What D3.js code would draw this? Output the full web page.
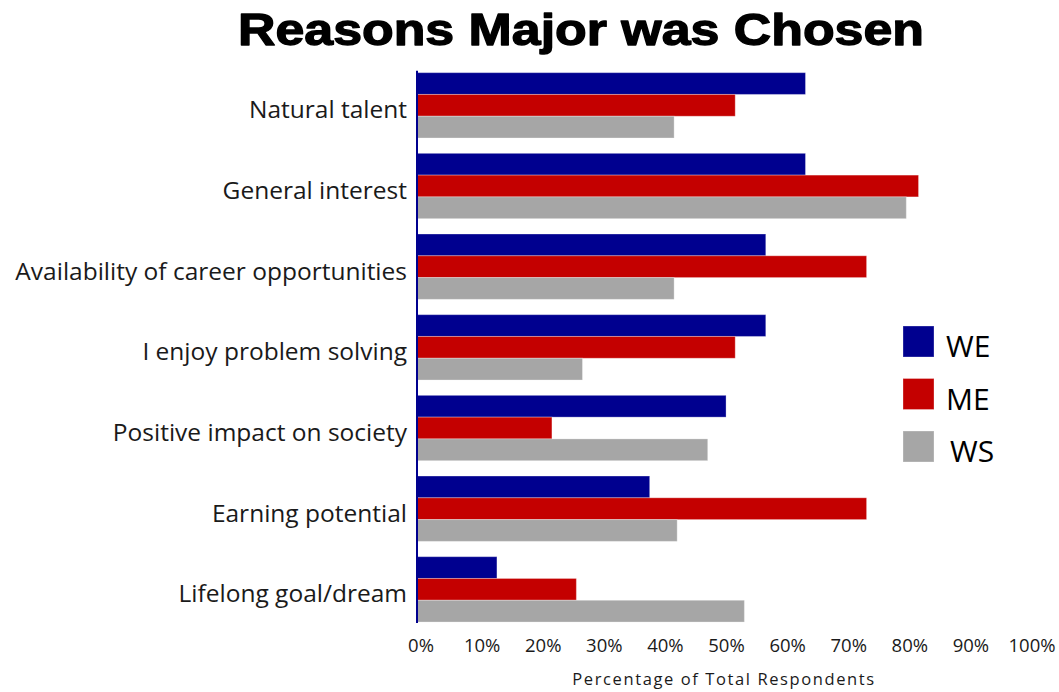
<!DOCTYPE html>
<html>
<head>
<meta charset="utf-8">
<script src="https://cdn.jsdelivr.net/npm/d3@7"></script>
<style>
  html, body { margin: 0; padding: 0; background: #ffffff; }
  svg { display: block; }
  text { font-family: "Open Sans", "DejaVu Sans", sans-serif; }
</style>
</head>
<body>
<svg id="chart" width="1059" height="692"></svg>
<script>
// Reasons listed top to bottom
const categories = [
  "Natural talent",
  "General interest",
  "Availability of career opportunities",
  "I enjoy problem solving",
  "Positive impact on society",
  "Earning potential",
  "Lifelong goal/dream"
];

// Series (percent of respondents)
const seriesNames = ["WE", "ME", "WS"];
const weValues = [63.5, 63.5, 57, 57, 50.5, 38, 13];
const meValues = [52, 82, 73.5, 52, 22, 73.5, 26];
const wsValues = [42, 80, 42, 27, 47.5, 42.5, 53.5];
const seriesColors = ["#00008f", "#c40000", "#a6a6a6"];

// Tick values along the percentage axis
const tickValues = [0, 10, 20, 30, 40, 50, 60, 70, 80, 90, 100];

const seriesValues = [weValues, meValues, wsValues];
const rows = categories.map((c, i) => ({
  category: c,
  values: seriesNames.map((s, j) => ({ series: s, value: seriesValues[j][i] }))
}));

const svg = d3.select("#chart");

const x = d3.scaleLinear().domain([0, 100]).range([417.5, 1028.5]);

const y = d3.scaleBand()
  .domain(categories)
  .range([64.6, 630.1])
  .paddingInner(0.19)
  .paddingOuter(0.1);

const ySub = d3.scaleBand()
  .domain(seriesNames)
  .range([0, y.bandwidth()]);

const color = d3.scaleOrdinal().domain(seriesNames).range(seriesColors);

// Title
svg.append("text")
  .attr("x", 581)
  .attr("y", 45)
  .attr("text-anchor", "middle")
  .attr("textLength", 686)
  .attr("lengthAdjust", "spacingAndGlyphs")
  .style("font-family", "'Liberation Sans', Arial, sans-serif")
  .style("font-weight", "bold")
  .style("font-size", "45px")
  .attr("fill", "#000")
  .attr("stroke", "#000")
  .attr("stroke-width", 1.3)
  .attr("stroke-linejoin", "round")
  .text("Reasons Major was Chosen");

// Bars
const groups = svg.append("g")
  .selectAll("g")
  .data(rows)
  .join("g")
  .attr("transform", d => `translate(0,${y(d.category)})`);

groups.selectAll("rect")
  .data(d => d.values)
  .join("rect")
  .attr("x", x(0))
  .attr("y", d => ySub(d.series))
  .attr("width", d => x(d.value) - x(0))
  .attr("height", ySub.bandwidth())
  .attr("fill", d => color(d.series))
  .attr("stroke", "#ffffff")
  .attr("stroke-opacity", 0.3)
  .attr("stroke-width", 1);

// Category labels
svg.append("g")
  .selectAll("text")
  .data(categories)
  .join("text")
  .attr("x", 407)
  .attr("y", d => y(d) + y.bandwidth() / 2 + 13)
  .attr("text-anchor", "end")
  .style("font-size", "24.5px")
  .attr("fill", "#1a1a1a")
  .text(d => d);

// Vertical axis line
svg.append("line")
  .attr("x1", x(0) - 0.5)
  .attr("x2", x(0) - 0.5)
  .attr("y1", y(categories[0]) - 2)
  .attr("y2", y(categories[categories.length - 1]) + y.bandwidth() + 1)
  .attr("stroke", "#00008f")
  .attr("stroke-width", 2);

// Percentage axis (labels only)
const xAxis = d3.axisBottom(x)
  .tickValues(tickValues)
  .tickFormat(d => d + "%")
  .tickSize(0)
  .tickPadding(0);

const xg = svg.append("g")
  .attr("transform", "translate(3,652)")
  .call(xAxis);
xg.select(".domain").remove();
xg.selectAll("text")
  .attr("dy", 0)
  .style("font-family", "'Open Sans', sans-serif")
  .style("font-size", "18.5px")
  .attr("fill", "#1a1a1a");

// Axis title
svg.append("text")
  .attr("x", 724)
  .attr("y", 685)
  .attr("text-anchor", "middle")
  .style("font-size", "16.5px")
  .style("letter-spacing", "1.6px")
  .attr("fill", "#1a1a1a")
  .text("Percentage of Total Respondents");

// Legend
const legend = svg.append("g")
  .selectAll("g")
  .data(seriesNames)
  .join("g")
  .attr("transform", (d, i) => `translate(903,${326 + i * 52.5})`);

legend.append("rect")
  .attr("width", 31)
  .attr("height", 31)
  .attr("fill", d => color(d))
  .attr("stroke", "#ffffff")
  .attr("stroke-opacity", 0.3);

legend.append("text")
  .attr("x", (d, i) => i === 2 ? 47 : 43)
  .attr("y", 31)
  .style("font-size", "30px")
  .attr("fill", "#000")
  .text(d => d);
</script>
</body>
</html>
